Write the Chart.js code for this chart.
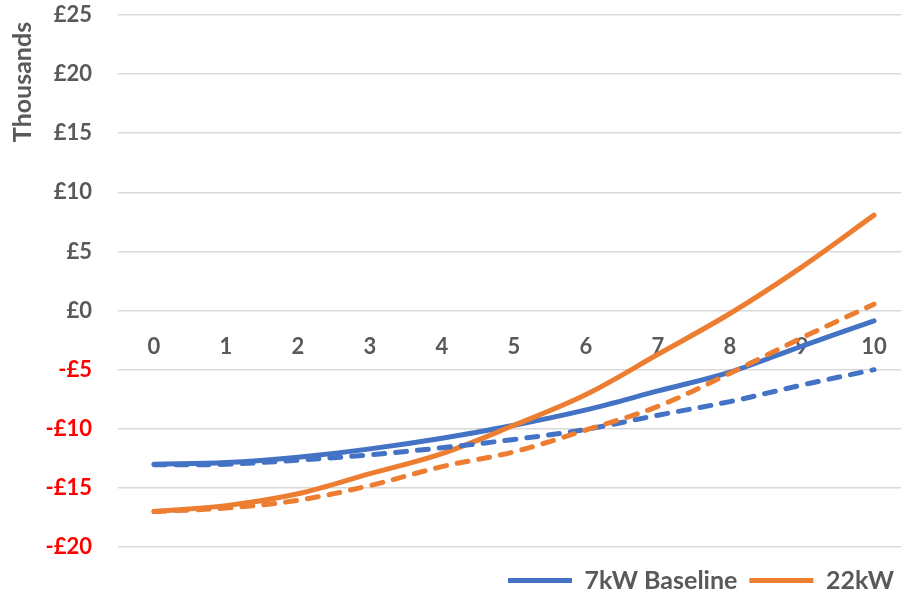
<!DOCTYPE html>
<html>
<head>
<meta charset="utf-8">
<script src="https://cdn.jsdelivr.net/npm/chart.js@4.4.0/dist/chart.umd.min.js"></script>
<style>
html,body{margin:0;padding:0;background:#fff;overflow:hidden;width:901px;height:594px}
#wrap{position:absolute;left:0;top:0;width:910px;height:594px}
canvas{display:block}
</style>
</head>
<body>
<div id="wrap"><canvas id="c" width="910" height="594"></canvas></div>
<script>
// ---- data (values in £ thousands) ----
const years = ['0','1','2','3','4','5','6','7','8','9','10'];
const seriesNames = ['7kW Baseline', '22kW Baseline', '7kW Scenario', '22kW Scenario'];
const baseline7kW  = [-13.0, -12.85, -12.4, -11.7, -10.8, -9.7, -8.4, -6.8, -5.2, -3.0, -0.87];
const baseline22kW = [-17.0, -16.5, -15.5, -13.8, -12.1, -9.7, -7.1, -3.7, -0.25, 3.7, 8.07];
const scenario7kW  = [-13.05, -13.0, -12.65, -12.2, -11.6, -10.9, -10.05, -8.85, -7.7, -6.3, -5.0];
const scenario22kW = [-17.0, -16.7, -16.05, -14.8, -13.2, -11.95, -10.1, -8.1, -5.3, -2.3, 0.54];
const yMin = -20, yMax = 25, yStep = 5;
const unitsLabel = 'Thousands';

const BLUE = '#4472C4', ORANGE = '#ED7D31', GREY = '#595959', RED = '#FF0000';
const FONT = 'Lato';

const legendShift = {
  id: 'legendShift',
  afterLayout(chart) {
    const lg = chart.legend;
    if (!lg) return;
    const dy = 9;
    lg.left = 496;
    lg.right = 5000;
    lg.top += dy;
    lg.bottom += dy;
  }
};

const unitsTitle = {
  id: 'unitsTitle',
  afterDraw(chart) {
    const ctx = chart.ctx;
    ctx.save();
    ctx.translate(23, 82);
    ctx.rotate(-Math.PI / 2);
    ctx.font = 'bold 25px ' + FONT;
    ctx.fillStyle = GREY;
    ctx.textAlign = 'center';
    ctx.textBaseline = 'middle';
    ctx.fillText(unitsLabel, 0, 0);
    ctx.restore();
  }
};

function lineDs(label, data, color, dashed, order) {
  return {
    label, data,
    borderColor: color, backgroundColor: color,
    borderWidth: 5,
    borderDash: dashed ? [11, 11] : [],
    borderCapStyle: 'round',
    borderJoinStyle: 'round',
    pointRadius: 0, pointHoverRadius: 0,
    tension: 0.35,
    fill: false,
    order
  };
}

new Chart(document.getElementById('c'), {
  type: 'line',
  data: {
    labels: years,
    datasets: [
      lineDs(seriesNames[0], baseline7kW, BLUE, false, 4),
      lineDs(seriesNames[1], baseline22kW, ORANGE, false, 3),
      lineDs(seriesNames[2], scenario7kW, BLUE, true, 2),
      lineDs(seriesNames[3], scenario22kW, ORANGE, true, 1)
    ]
  },
  options: {
    responsive: false,
    animation: false,
    devicePixelRatio: 1,
    layout: { padding: { top: 15, left: 0, right: 0, bottom: 0 } },
    plugins: {
      title: { display: false },
      tooltip: { enabled: false },
      legend: {
        display: true,
        position: 'bottom',
        align: 'start',
        labels: {
          usePointStyle: true,
          pointStyle: 'line',
          pointStyleWidth: 64,
          padding: 12,
          color: GREY,
          font: { family: FONT, weight: 'bold', size: 25 },
          filter: (item) => item.datasetIndex < 2,
          sort: (a, b) => a.datasetIndex - b.datasetIndex
        }
      }
    },
    scales: {
      x: {
        type: 'category',
        position: { y: 0 },
        offset: true,
        grid: { display: false, drawTicks: false },
        border: { display: false },
        ticks: {
          color: GREY,
          padding: 23,
          font: { family: FONT, weight: 'bold', size: 22 },
          maxRotation: 0,
          autoSkip: false
        },
        afterFit: (s) => { s.height = 0; }
      },
      y: {
        min: yMin, max: yMax,
        grid: { color: '#d9d9d9', lineWidth: 1.5, drawTicks: false },
        border: { display: false },
        ticks: {
          stepSize: yStep,
          padding: 26,
          font: { family: FONT, weight: 'bold', size: 22 },
          color: (ctx) => (ctx.tick && ctx.tick.value < 0 ? RED : GREY),
          callback: (v) => (v < 0 ? '-£' + Math.abs(v) : '£' + v)
        },
        title: { display: false },
        afterFit: (s) => { s.width = 118; s.paddingTop = 13; s.paddingBottom = 13; }
      }
    }
  },
  plugins: [legendShift, unitsTitle]
});
</script>
</body>
</html>
